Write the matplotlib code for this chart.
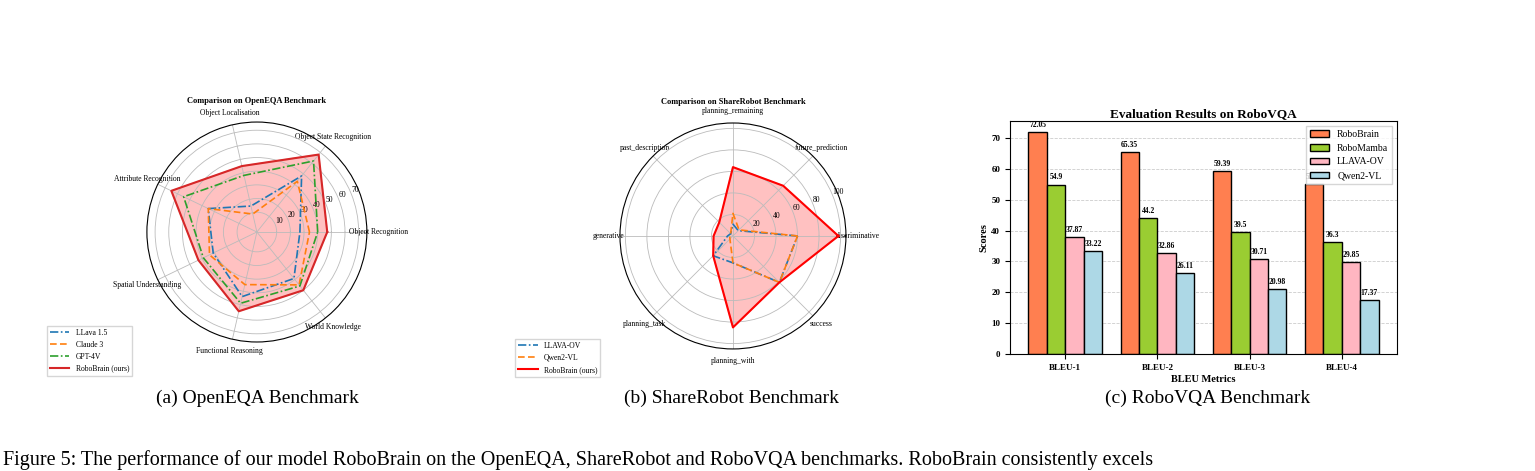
import numpy as np
import matplotlib
matplotlib.use("Agg")
import matplotlib.pyplot as plt

plt.rcParams['font.family'] = ['Liberation Serif', 'DejaVu Serif']

# OpenEQA
eqa_cats = ["Object Recognition", "Object State Recognition", "Object Localisation",
            "Attribute Recognition", "Spatial Understanding", "Functional Reasoning", "World Knowledge"]
eqa_llava = [27, 48, 15, 35, 31, 44, 39]
eqa_claude = [34, 43, 9, 35, 34, 35, 45]
eqa_gpt4v = [40, 62, 38, 55, 39, 49, 46]
eqa_robobrain = [47, 68, 45, 65, 43, 55, 50]

# ShareRobot
sr_cats = ["discriminative", "future_prediction", "planning_remaining", "past_description",
           "generative", "planning_task", "planning_with", "success"]
sr_llava = [60, 7, 11, 3, 5, 26, 25, 61]
sr_qwen = [60, 8, 21, 3, 3, 4, 25, 61]
sr_robobrain = [98, 66, 64, 18, 18, 26, 85, 61]

# RoboVQA
vqa_metrics = ["BLEU-1", "BLEU-2", "BLEU-3", "BLEU-4"]
vqa_models = ["RoboBrain", "RoboMamba", "LLAVA-OV", "Qwen2-VL"]
vqa_scores = [
    [72.05, 65.35, 59.39, 55.05],
    [54.9, 44.2, 39.5, 36.3],
    [37.87, 32.86, 30.71, 29.85],
    [33.22, 26.11, 20.98, 17.37],
]
vqa_colors = ["#ff7f50", "#9acd32", "#ffb6c1", "#add8e6"]

fig = plt.figure(figsize=(15.35, 4.71), dpi=100)


def radar(ax, cats, series, rmin, rmax, ticks, title):
    n = len(cats)
    ang = np.linspace(0, 2 * np.pi, n, endpoint=False)
    for vals, lab, col, ls in series:
        v = list(vals) + [vals[0]]
        a = list(ang) + [ang[0]]
        lw = 1.5 if lab.startswith("RoboBrain") else 1.2
        ax.plot(a, v, color=col, linestyle=ls, linewidth=lw, label=lab)
        if lab.startswith("RoboBrain"):
            ax.fill(a, v, color="#ff9999", alpha=0.6)
    ax.set_xticks(ang)
    ax.set_xticklabels(cats, fontsize=5.5)
    ax.tick_params(axis='x', pad=-2)
    ax.set_ylim(rmin, rmax)
    ax.set_yticks(ticks)
    ax.set_yticklabels([str(t) for t in ticks], fontsize=5.5)
    ax.set_rlabel_position(22)
    ax.grid(color="#bbbbbb", linewidth=0.6)
    ax.spines['polar'].set_color('black')
    ax.spines['polar'].set_linewidth(0.8)
    ax.set_title(title, fontsize=6, fontweight='bold', pad=14)


ax1 = fig.add_axes([0.1674 - 0.0717, 0.5074 - 0.2335, 0.1433, 0.467], projection='polar')
radar(ax1, eqa_cats, [
    (eqa_llava, "LLava 1.5", "#1f77b4", (0, (5, 1.5, 1, 1.5))),
    (eqa_claude, "Claude 3", "#ff7f0e", (0, (4, 2))),
    (eqa_gpt4v, "GPT-4V", "#2ca02c", (0, (5, 1.5, 1, 1.5))),
    (eqa_robobrain, "RoboBrain (ours)", "#d62728", "-"),
], -4.5, 76, [10, 20, 30, 40, 50, 60, 70], "Comparison on OpenEQA Benchmark")
ax1.legend(loc='lower left', bbox_to_anchor=(-0.47, -0.17), fontsize=5.5, frameon=True,
           fancybox=False, edgecolor='#cccccc', handlelength=2.5)

ax2 = fig.add_axes([0.4775 - 0.0736, 0.499 - 0.24, 0.1472, 0.48], projection='polar')
radar(ax2, sr_cats, [
    (sr_llava, "LLAVA-OV", "#1f77b4", (0, (5, 1.5, 1, 1.5))),
    (sr_qwen, "Qwen2-VL", "#ff7f0e", (0, (4, 2))),
    (sr_robobrain, "RoboBrain (ours)", "red", "-"),
], 0, 105, [20, 40, 60, 80, 100], "Comparison on ShareRobot Benchmark")
ax2.legend(loc='lower left', bbox_to_anchor=(-0.48, -0.14), fontsize=5.5, frameon=True,
           fancybox=False, edgecolor='#cccccc', handlelength=2.5)

ax3 = fig.add_axes([0.658, 0.2484, 0.2521, 0.4947])
x = np.arange(len(vqa_metrics))
w = 0.2
for i, (m, sc, c) in enumerate(zip(vqa_models, vqa_scores, vqa_colors)):
    bars = ax3.bar(x + (i - 1.5) * w, sc, w, color=c, edgecolor='black', linewidth=1.0, label=m)
    for b, v in zip(bars, sc):
        ax3.text(b.get_x() + b.get_width() / 2, v + 1.0, f"{v:g}", ha='center', va='bottom',
                 fontsize=5.5, fontweight='bold')
ax3.set_xticks(x)
ax3.set_xticklabels(vqa_metrics, fontsize=6.5, fontweight='bold')
ax3.set_ylim(0, 75.5)
ax3.set_yticks(range(0, 80, 10))
ax3.tick_params(axis='y', labelsize=6.5)
for lab in ax3.get_yticklabels():
    lab.set_fontweight('bold')
ax3.set_xlim(-0.6, 3.6)
ax3.set_xlabel("BLEU Metrics", fontsize=7.5, fontweight='bold', labelpad=2)
ax3.set_ylabel("Scores", fontsize=7.5, fontweight='bold', labelpad=2)
ax3.set_title("Evaluation Results on RoboVQA", fontsize=9.5, fontweight='bold', pad=3)
ax3.yaxis.grid(True, linestyle='--', color='#cccccc', linewidth=0.6)
ax3.set_axisbelow(True)
ax3.legend(loc='upper right', fontsize=7, fancybox=False, edgecolor='#cccccc')

fig.text(257 / 1535, 1 - 398 / 471, "(a) OpenEQA Benchmark", ha='center', va='center', fontsize=14)
fig.text(731 / 1535, 1 - 398 / 471, "(b) ShareRobot Benchmark", ha='center', va='center', fontsize=14)
fig.text(1208 / 1535, 1 - 398 / 471, "(c) RoboVQA Benchmark", ha='center', va='center', fontsize=14)
fig.text(0.002, 0.003,
         "Figure 5: The performance of our model RoboBrain on the OpenEQA, ShareRobot and RoboVQA benchmarks. RoboBrain consistently excels",
         ha='left', va='bottom', fontsize=14.5)

fig.savefig("out.png", dpi=100)
